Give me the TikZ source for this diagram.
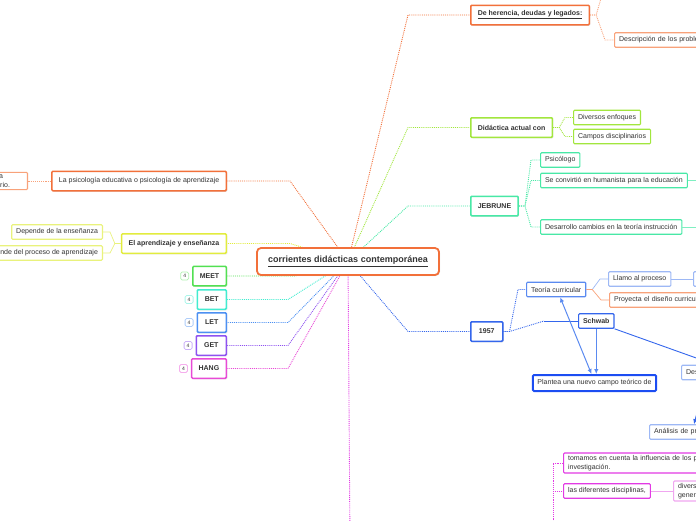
\documentclass[tikz,border=0pt]{standalone}
\usepackage{fontspec}
\setmainfont{Liberation Sans}
\usetikzlibrary{positioning,backgrounds,arrows.meta,shadows}

\definecolor{txt}{HTML}{333333}
\definecolor{corange}{HTML}{F2703A}
\definecolor{corangep}{HTML}{F8A27A}
\definecolor{clime}{HTML}{A2E63E}
\definecolor{cyellow}{HTML}{E2EC3E}
\definecolor{cyellowp}{HTML}{E9F27C}
\definecolor{cmint}{HTML}{48E8A6}
\definecolor{cgreen}{HTML}{52E052}
\definecolor{caqua}{HTML}{42ECD0}
\definecolor{clet}{HTML}{4C90F2}
\definecolor{cpurple}{HTML}{8E52F0}
\definecolor{chang}{HTML}{E84AD6}
\definecolor{cblue}{HTML}{3466EC}
\definecolor{cbluem}{HTML}{5A8AF0}
\definecolor{cbluep}{HTML}{9DB8F5}
\definecolor{cdeep}{HTML}{1C4DF2}
\definecolor{cpink}{HTML}{E23AE4}
\definecolor{cpinkp}{HTML}{F0A6F0}

\begin{document}
\begin{tikzpicture}[
    x=1pt, y=-1pt,
    font=\fontsize{7}{8.4}\selectfont,
    text=txt,
    topic/.style={
		rectangle,
		rounded corners=1pt,
		draw=#1,
		line width=1.5pt,
		fill=white,
		inner xsep=7pt, inner ysep=2pt,
		minimum height=19.5pt,
		font=\fontsize{7}{8.4}\selectfont\bfseries,
		drop shadow={shadow xshift=1pt, shadow yshift=-1pt, fill=black!20}
	},
    subtopic/.style={
		rectangle,
		rounded corners=1pt,
		draw=#1,
		line width=1.1pt,
		fill=white,
		inner xsep=4.5pt, inner ysep=2pt,
		minimum height=14.5pt
	},
    badge/.style={
		rectangle,
		rounded corners=1.5pt,
		draw=#1!45,
		line width=0.8pt,
		fill=white,
		inner sep=0pt,
		minimum size=8pt,
		font=\fontsize{5}{6}\selectfont
	},
    cut/.style={text width=#1, align=left},
    link/.style={draw=#1, densely dotted, line width=0.9pt},
    twig/.style={draw=#1, line width=0.7pt},
    tip/.style={draw=cbluem, line width=1pt, -{Latex[length=5pt,width=4.5pt]}}
  ]
  \useasboundingbox (0,0) rectangle (696,520);

  % the central topic
  \node [topic=corange, rounded corners=4pt, line width=1.8pt, minimum width=182pt,
         minimum height=27pt, font=\fontsize{9}{11}\selectfont\bfseries] (root) at (348,261.5)
        {\underline{corrientes didácticas contemporánea}};

  % right hand side
  \node [topic=corange, anchor=west] (legado) at (470,15) {\underline{De herencia, deudas y legados:}};
  \node [subtopic=corangep, anchor=west, cut=100pt] (problema) at (614,40) {Descripción de los proble};

  \node [topic=clime, anchor=west] (actual) at (470,127.5) {Didáctica actual con};
  \node [subtopic=clime, anchor=west] (enfoque) at (573,117.5) {Diversos enfoques};
  \node [subtopic=clime, anchor=west] (campo) at (573,136.5) {Campos disciplinarios};

  \node [topic=cmint, anchor=west] (bruner) at (470,206) {JEBRUNE};
  \node [subtopic=cmint, anchor=west] (psicologo) at (540,160) {Psicólogo};
  \node [subtopic=cmint, anchor=west] (humanista) at (540,180.5) {Se convirtió en humanista para la educación};
  \node [subtopic=cmint, anchor=west] (cambio) at (540,227) {Desarrollo cambios en la teoría instrucción};

  \node [topic=cblue, anchor=west, minimum width=32pt] (anio) at (470,331.5) {1957};
  \node [subtopic=cbluem, anchor=west] (teoria) at (526,289.5) {Teoría curricular};
  \node [subtopic=cblue, anchor=west, font=\fontsize{7}{8.4}\selectfont\bfseries] (schwab) at (578,321) {Schwab};
  \node [subtopic=cbluep, anchor=west] (llamo) at (608,279) {Llamo al proceso};
  \node [subtopic=cbluep, anchor=west, minimum width=40pt] (llamob) at (693,279) {};
  \node [subtopic=corangep, anchor=west, cut=100pt] (proyecta) at (609,300) {Proyecta el diseño curricular};
  \node [subtopic=cdeep, line width=2pt, minimum height=16pt] (plantea) at (594.5,383) {Plantea una nuevo campo teórico de};
  \node [subtopic=cbluep, anchor=west, cut=40pt] (destaca) at (681,372.5) {Dest};
  \node [subtopic=cbluep, anchor=west, cut=70pt] (analisis) at (649,432) {Análisis de pro};

  \node [subtopic=cpink, anchor=west, cut=150pt, inner ysep=2.5pt] (tomamos) at (563,463)
        {tomamos en cuenta la influencia de los pr\\investigación.};
  \node [subtopic=cpink, anchor=west] (disciplina) at (563,491) {las diferentes disciplinas,};
  \node [subtopic=cpinkp, anchor=west, cut=40pt, inner ysep=2.5pt] (diverso) at (673,491) {divers\\gener};

  % left hand side
  \node [topic=corange, anchor=east, font=\fontsize{7}{8.4}\selectfont] (psico) at (227,181)
        {La psicología educativa o psicología de aprendizaje};
  \node [subtopic=corangep, anchor=east, text width=40pt, align=right, inner ysep=2.5pt] (psicob) at (28,181)
        {a\rule{20pt}{0pt}\\rio.\rule{13pt}{0pt}};

  \node [topic=cyellow, anchor=east] (aprende) at (227,243.5) {El aprendizaje y enseñanza};
  \node [subtopic=cyellowp, anchor=east] (ensena) at (103,232) {Depende de la enseñanza};
  \node [subtopic=cyellowp, anchor=east] (proceso) at (103,253) {Depende del proceso de aprendizaje};

  \node [topic=cgreen, anchor=east] (meet) at (227,276) {MEET};
  \node [topic=caqua, anchor=east, minimum width=29pt] (bet) at (227,299.5) {BET};
  \node [topic=clet, anchor=east, minimum width=29pt] (let) at (227,322.5) {LET};
  \node [topic=cpurple, anchor=east, minimum width=30pt] (get) at (227,345.5) {GET};
  \node [topic=chang, anchor=east] (hang) at (227,368.5) {HANG};

  \node [badge=cgreen, left=3pt of meet] (meetn) {4};
  \node [badge=caqua, left=3pt of bet] (betn) {4};
  \node [badge=clet, left=3pt of let] (letn) {4};
  \node [badge=cpurple, left=3pt of get] (getn) {4};
  \node [badge=chang, left=3pt of hang] (hangn) {4};

  % free ends that run off the page
  \coordinate (legadoup) at (604,-12);
  \coordinate (rootdown) at (350,545);
  \coordinate (pinkroot) at (553,545);
  \coordinate (schwabout) at (720,366.5);
  \coordinate (analisisin) at (701,398);

  \begin{pgfonlayer}{background}
  \draw [link=corange] (root.center) -- ([xshift=-62pt]legado.west) -- (legado.west);
  \draw [link=clime] (root.center) -- ([xshift=-62pt]actual.west) -- (actual.west);
  \draw [link=cmint] (root.center) -- ([xshift=-62pt]bruner.west) -- (bruner.west);
  \draw [link=cblue] (root.center) -- ([xshift=-62pt]anio.west) -- (anio.west);
  \draw [link=cpink] (root.center) -- (rootdown);
  \draw [link=corange] (root.center) -- ([xshift=63pt]psico.east) -- (psico.east);
  \draw [link=cyellow] (root.center) -- ([xshift=63pt]aprende.east) -- (aprende.east);
  \draw [link=cgreen] (root.center) -- ([xshift=68pt]meet.east) -- (meet.east);
  \draw [link=caqua] (root.center) -- ([xshift=61pt]bet.east) -- (bet.east);
  \draw [link=clet] (root.center) -- ([xshift=61pt]let.east) -- (let.east);
  \draw [link=cpurple] (root.center) -- ([xshift=61pt]get.east) -- (get.east);
  \draw [link=chang] (root.center) -- ([xshift=61pt]hang.east) -- (hang.east);
  \end{pgfonlayer}

  \draw [link=corangep] (legado.east) -- ++(6,0) -- (legadoup);
  \draw [link=corangep] (legado.east) -- ++(6,0) -- ([xshift=-9pt]problema.west) -- (problema.west);

  \draw [link=clime] (actual.east) -- ++(6,0) -- ([xshift=-8pt]enfoque.west) -- (enfoque.west);
  \draw [link=clime] (actual.east) -- ++(6,0) -- ([xshift=-8pt]campo.west) -- (campo.west);

  \draw [link=cmint] (bruner.east) -- ++(6,0) -- ([xshift=-9pt]psicologo.west) -- (psicologo.west);
  \draw [link=cmint] (bruner.east) -- ++(6,0) -- ([xshift=-9pt]humanista.west) -- (humanista.west);
  \draw [link=cmint] (bruner.east) -- ++(6,0) -- ([xshift=-9pt]cambio.west) -- (cambio.west);
  \draw [twig=cmint!70] (humanista.east) -- ([xshift=30pt]humanista.east);
  \draw [twig=cmint!70] (cambio.east) -- ([xshift=30pt]cambio.east);

  \draw [link=cblue] (anio.east) -- ++(6,0) -- ([xshift=-8pt]teoria.west) -- (teoria.west);
  \draw [link=cblue] (anio.east) -- ++(6,0) -- ([xshift=-34pt]schwab.west);
  \draw [twig=cblue] ([xshift=-34pt]schwab.west) -- (schwab.west);
  \draw [twig=cbluep] (teoria.east) -- ++(6,0) -- ([xshift=-8pt]llamo.west) -- (llamo.west);
  \draw [twig=corangep] (teoria.east) -- ++(6,0) -- ([xshift=-8pt]proyecta.west) -- (proyecta.west);
  \draw [twig=cbluep] (llamo.east) -- (llamob.west);
  \draw [tip] (schwab.south) -- (schwab.south |- plantea.north);
  \draw [tip, {Latex[length=5pt,width=4.5pt]}-{Latex[length=5pt,width=4.5pt]}]
        ([xshift=4pt]teoria.south) -- ([xshift=-3pt]plantea.north);
  \draw [twig=cblue, line width=0.9pt] (schwab.south east) -- (schwabout);
  \draw [tip, draw=cblue] (analisisin) -- ([xshift=45pt]analisis.north west);

  \draw [link=cpink] (pinkroot) -- (pinkroot |- tomamos.west) -- (tomamos.west);
  \draw [link=cpink] (pinkroot |- disciplina.west) -- (disciplina.west);
  \draw [twig=cpinkp] (disciplina.east) -- (diverso.west);

  \draw [link=corangep] (psico.west) -- (psicob.east);
  \draw [twig=cyellowp] (aprende.west) -- ++(-6,0) -- ([xshift=7pt]ensena.east) -- (ensena.east);
  \draw [twig=cyellowp] (aprende.west) -- ++(-6,0) -- ([xshift=7pt]proceso.east) -- (proceso.east);

\end{tikzpicture}
\end{document}
